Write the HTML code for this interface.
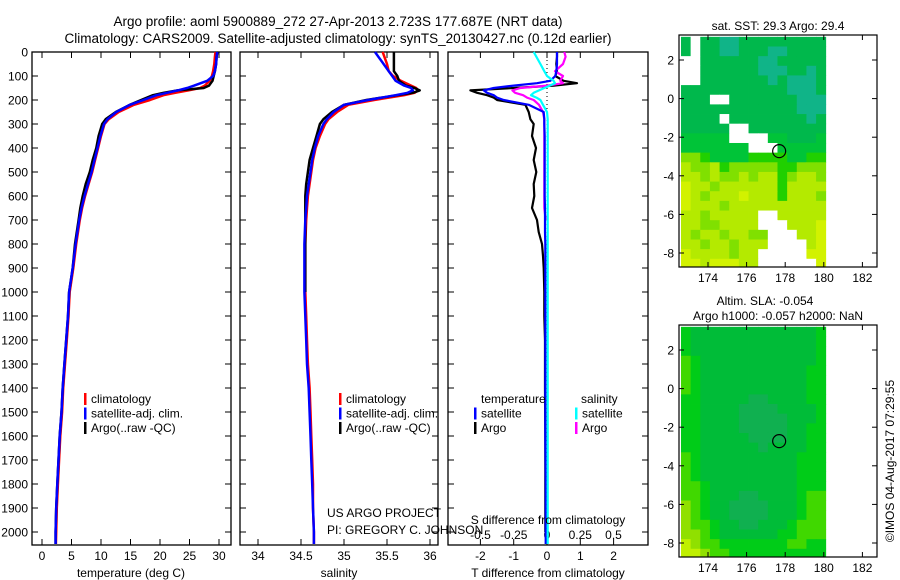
<!DOCTYPE html>
<html><head><meta charset="utf-8"><style>
html,body{margin:0;padding:0;background:#fff}
svg{display:block;font-family:"Liberation Sans",sans-serif}
</style></head><body>
<svg id="c" width="900" height="580" viewBox="0 0 900 580" xmlns="http://www.w3.org/2000/svg"></svg>
<script>
// ---------- data ----------
const depths = [0,20,50,80,100,120,140,150,160,170,180,200,220,250,280,300,350,400,450,500,550,600,650,700,800,900,1000,1100,1200,1300,1400,1500,1600,1700,1800,1900,2000,2050];
const tempClim = [29.4,29.3,29.2,29.0,28.8,28.4,27.6,26.8,24.8,22.6,20.6,18.3,15.6,13.0,11.3,10.6,10.0,9.5,9.0,8.5,7.9,7.3,6.8,6.4,5.8,5.3,4.7,4.5,4.2,3.9,3.6,3.4,3.1,2.9,2.7,2.5,2.4,2.35];
const tempSat  = [29.7,29.6,29.5,29.3,29.0,28.0,25.8,24.6,23.0,21.2,19.4,17.2,14.9,12.6,11.1,10.5,9.9,9.4,8.9,8.4,7.8,7.2,6.7,6.3,5.7,5.2,4.6,4.4,4.1,3.8,3.5,3.3,3.0,2.8,2.6,2.4,2.3,2.3];
const tempArgo = [29.7,29.6,29.5,29.3,29.1,28.9,28.3,27.4,23.0,20.6,18.8,16.8,14.9,12.5,10.8,10.2,9.6,9.2,8.6,8.1,7.4,6.9,6.5,6.2,5.6,5.2,4.6,4.4,4.1,3.8,3.5,3.3,3.0,2.8,2.6,2.4,2.3,2.3];
const salClim = [35.45,35.47,35.5,35.52,35.57,35.66,35.78,35.84,35.86,35.82,35.7,35.35,35.05,34.92,34.82,34.78,34.72,34.67,34.64,34.62,34.6,34.58,34.57,34.56,34.55,34.55,34.55,34.56,34.57,34.58,34.6,34.61,34.62,34.63,34.64,34.64,34.65,34.65];
const salSat  = [35.36,35.4,35.46,35.52,35.56,35.6,35.7,35.78,35.8,35.74,35.6,35.28,35.0,34.88,34.8,34.76,34.7,34.66,34.63,34.61,34.59,34.57,34.56,34.55,34.54,34.54,34.54,34.55,34.56,34.57,34.59,34.6,34.61,34.62,34.63,34.64,34.65,34.65];
const salArgo = [35.58,35.58,35.58,35.58,35.62,35.64,35.72,35.82,35.88,35.8,35.62,35.26,35.0,34.86,34.76,34.72,34.68,34.64,34.6,34.58,34.56,34.55,34.55,34.55,34.55,34.55,34.55];
const diffDepths = [0,20,50,80,100,120,130,140,150,160,170,180,190,200,220,250,280,300,350,400,450,500,550,600,650,700,750,800,850,900,1000,1100,1200,1400,1600,1800,2000,2050];
const dTsat  = [0.3,0.3,0.3,0.28,0.25,0.1,-0.3,-1.0,-1.6,-1.9,-1.8,-1.6,-1.5,-1.3,-0.55,-0.1,-0.08,-0.08,-0.07,-0.07,-0.07,-0.07,-0.07,-0.07,-0.06,-0.06,-0.06,-0.05,-0.05,-0.05,-0.05,-0.05,-0.05,-0.05,-0.05,-0.04,-0.04,-0.04];
const dTargo = [0.3,0.3,0.28,0.3,0.25,0.5,0.9,0.2,-1.0,-2.3,-2.1,-1.8,-1.6,-1.5,-0.65,-0.55,-0.5,-0.4,-0.45,-0.33,-0.4,-0.32,-0.4,-0.38,-0.45,-0.3,-0.25,-0.15,-0.12,-0.1,-0.08,-0.08,-0.06,-0.06,-0.05,-0.05,-0.05];
const dSsat  = [-0.1,-0.08,-0.05,-0.02,0.0,0.05,0.06,0.02,-0.02,-0.06,-0.1,-0.12,-0.08,-0.05,-0.03,0.0,0.005,0.005,0.005,0.005,0.005,0.005,0.005,0.005,0.005,0.005,0.005,0.005,0.005,0.005,0.005,0.005,0.005,0.005,0.005,0.005,0.005,0.005];
const dSargo = [0.13,0.14,0.12,0.06,0.12,0.1,0.12,0.0,-0.2,-0.26,-0.24,-0.18,-0.15,-0.1,-0.06,-0.03,-0.02,-0.02,-0.02,-0.02,-0.02,-0.02,-0.02,-0.02,-0.02,-0.01];
const depthTicks = [0,100,200,300,400,500,600,700,800,900,1000,1100,1200,1300,1400,1500,1600,1700,1800,1900,2000];
const tempTicks = [0,5,10,15,20,25,30];
const salTicks = [34,34.5,35,35.5,36];
const dTTicks = [-2,-1,0,1,2];
const dSTicks = [-0.5,-0.25,0,0.25,0.5];
const sstColors = {w:'#ffffff',a:'#10b488',b:'#00b84c',c:'#00c438',d:'#20d000',e:'#80e000',f:'#b4ea00',g:'#d2f200'};
const sstRows = ["bwbbaabbbbbbbbb","bwbbaabbbaabbbb","wwbbbbbbaabbbbb","wwbbbbbbaaabbab","wwbbbbbbbabaaab","bbbbbbbbbbbaaab","bbbwwbbbbbbbaaa","bbbbbbbbbbbbaaa","bbbbwbbbbbbbbab","bbbbbwwbbbbbbbb","cccccwwwwccbbbc","cccccccwwwccccc","eedccccddddccdd","feefdeeeeeddeee","ffefeefeffdeffe","gffeffffffdffff","gfefffgfffdfffe","gfffeffffffffff","ffefffffwwfffff","ffeeffffwwwfffg","feffeffeewwwffg","ffeffefffwwwwfg","gffffeffwwwwwgg","ggfgggffwwwwwwg"];
const slaColors = {a:'#10b050',b:'#00bc38',c:'#00cc18',d:'#40d800',e:'#90e000',f:'#c0f000'};
const slaRows = ["cbbbbbbbbbbbbbc","cbbbbbbbbbbbbbc","cbbbbbbbbbbbbbc","dcbbbbbbbbbbbbc","dcbbbbbbbbbbbcc","dcbbbbbbbbbbbcc","dcbbbbbbbbbbbcc","ccbbbbbaabbbbcc","ccbbbbaaaabbbbc","ccbbbbaaaaabbbc","ccbbbbaaaaabbcc","ccbbbbbaaaabbcc","ccbbbbbbabbbbcc","dcbbbbbbbbbbccc","dcbbbbbbbbbbccc","dcbbbbbbbbbbccc","ddcbbbbbbbbbccc","ddcbbbaabbbbcdd","edcbbaaaabbbcdd","edcbbaaaabbbcdd","eddcbbaabbbcddd","eedcbbbbbbccddd","feddcccccccddcc","ffeddcccccccccc"];
const lonTicks = [174,176,178,180,182];
const latTicks = [2,0,-2,-4,-6,-8];
const argoLon = [177.687];
const argoLat = [-2.723];

// ---------- helpers ----------
const S = document.getElementById('c');
const NS = 'http://www.w3.org/2000/svg';
function mk(tag, attrs, parent){const e=document.createElementNS(NS,tag);for(const k in attrs)e.setAttribute(k,attrs[k]);(parent||S).appendChild(e);return e;}
function txt(x,y,s,anchor,size,parent){const e=mk('text',{x:x,y:y,'text-anchor':anchor||'start','font-size':size||12,fill:'#000'},parent);e.textContent=s;return e;}
const yD = d => 52 + d*0.24;
const P1={x0:32,x1:231}, P2={x0:240,x1:438}, P3={x0:448,x1:648};
const xT = t => 42 + 5.9*t;
const xS = s => 258 + 86*(s-34);
const xDT = v => 547 + 33.3*v;
const xDS = v => 547 + 133*v;

function frame(P,name){
  const g=mk('g',{});
  
  
  mk('rect',{x:P.x0,y:52,width:P.x1-P.x0,height:493,fill:'none',stroke:'#000','stroke-width':1.3},g);
  depthTicks.forEach(d=>{mk('line',{x1:P.x0,x2:P.x0+6,y1:yD(d),y2:yD(d),stroke:'#000'},g);mk('line',{x1:P.x1-6,x2:P.x1,y1:yD(d),y2:yD(d),stroke:'#000'},g);});
  return g;
}
function xticks(g,vals,fx,labelY){
  vals.forEach(v=>{const x=fx(v);mk('line',{x1:x,x2:x,y1:52,y2:58,stroke:'#000'},g);mk('line',{x1:x,x2:x,y1:539,y2:545,stroke:'#000'},g);
    if(labelY){const t=txt(x,labelY,String(v),'middle',12,g);}});
}
function line(g,xs,ys,color,name,w){
  const pts=xs.map((v,i)=>ys[i]!==undefined?`${v.toFixed(1)},${ys[i].toFixed(1)}`:'').filter(Boolean).join(' ');
  const p=mk('polyline',{points:pts,fill:'none',stroke:color,'stroke-width':w||2.5,'stroke-linejoin':'round'},g);
  
  
}

// titles
let t=txt(338,26,'Argo profile: aoml 5900889_272 27-Apr-2013 2.723S 177.687E (NRT data)','middle',13.5);

t=txt(338,43,'Climatology: CARS2009. Satellite-adjusted climatology: synTS_20130427.nc (0.12d earlier)','middle',13.5);


// depth labels
depthTicks.forEach(d=>{const e=txt(28,yD(d)+4.5,String(d),'end',12);});

// panel 1
const g1=frame(P1,'temperature-panel');
xticks(g1,tempTicks,xT,560);
line(g1,tempClim.map(xT),depths.map(yD),'#ff0000','temp-climatology-line');
line(g1,tempArgo.map(xT),depths.map(yD),'#000000','temp-argo-line');
line(g1,tempSat.map(xT),depths.map(yD),'#0000ff','temp-satellite-line');
t=txt(131,577,'temperature (deg C)','middle',12,g1);

// panel 2
const g2=frame(P2,'salinity-panel');
xticks(g2,salTicks,xS,560);
line(g2,salClim.map(xS),depths.map(yD),'#ff0000','sal-climatology-line');
line(g2,salArgo.map(xS),depths.slice(0,salArgo.length).map(yD),'#000000','sal-argo-line');
line(g2,salSat.map(xS),depths.map(yD),'#0000ff','sal-satellite-line');
t=txt(339,577,'salinity','middle',12,g2);

// panel 3
const g3=frame(P3,'difference-panel');
xticks(g3,dTTicks,xDT,560);
dSTicks.forEach(v=>{const e=txt(xDS(v),539,String(v),'middle',12,g3);});
mk('line',{x1:547,x2:547,y1:52,y2:545,stroke:'#000','stroke-dasharray':'1,3'},g3);
line(g3,dTargo.map(xDT),diffDepths.slice(0,dTargo.length).map(yD),'#000000','dT-argo-line',2.2);
line(g3,dSargo.map(xDS),diffDepths.slice(0,dSargo.length).map(yD),'#ff00ff','dS-argo-line',2.2);
line(g3,dTsat.map(xDT),diffDepths.map(yD),'#0000ff','dT-satellite-line',2.2);
line(g3,dSsat.map(xDS),diffDepths.map(yD),'#00ffff','dS-satellite-line',2.2);
t=txt(548,524,'S difference from climatology','middle',12,g3);
t=txt(548,577,'T difference from climatology','middle',12,g3);

// legends
function legend(x,y,items,name){
  const g=mk('g',{});
  items.forEach((it,i)=>{const yy=y+i*14.5;
    if(it[1]){mk('rect',{x:x,y:yy-10,width:2.5,height:12,fill:it[1]},g);}
    const e=txt(x+(it[1]?7:0),yy,it[0],'start',12,g);});
}
legend(84,403,[['climatology','#ff0000'],['satellite-adj. clim.','#0000ff'],['Argo(..raw -QC)','#000000']],'temperature-legend');
legend(339,403,[['climatology','#ff0000'],['satellite-adj. clim.','#0000ff'],['Argo(..raw -QC)','#000000']],'salinity-legend');
legend(481,403,[['temperature',null]],'diff-legend-temp-header');
legend(474,417.5,[['satellite','#0000ff'],['Argo','#000000']],'diff-legend-temp');
legend(581,403,[['salinity',null]],'diff-legend-sal-header');
legend(575,417.5,[['satellite','#00ffff'],['Argo','#ff00ff']],'diff-legend-sal');
t=txt(327,517,'US ARGO PROJECT','start',12);
t=txt(327,534,'PI: GREGORY C. JOHNSON','start',12);

// maps
const mLon = lon => 708 + (lon-174)*19.3;
function drawMap(top,rows,colors,name,titles){
  const g=mk('g',{});
  const mLat = lat => top + 25 + (2-lat)*19.3;
  rows.forEach((r,i)=>{const la=3.2-0.5*i;[...r].forEach((ch,j)=>{const lo=172.6+0.5*j;
    const x0=Math.max(mLon(lo),679), x1=mLon(lo+0.5), y0=Math.max(mLat(la),top), y1=Math.min(mLat(la-0.5),top+232);
    const c=mk('rect',{x:x0,y:y0,width:x1-x0+0.4,height:y1-y0+0.4,fill:colors[ch]},g);
    
    });});
  mk('rect',{x:679,y:top,width:198,height:232,fill:'none',stroke:'#000','stroke-width':1.2},g);
  lonTicks.forEach(lo=>{const x=mLon(lo);mk('line',{x1:x,x2:x,y1:top,y2:top+5,stroke:'#000'},g);mk('line',{x1:x,x2:x,y1:top+227,y2:top+232,stroke:'#000'},g);
    const e=txt(x,top+247,String(lo),'middle',12,g);});
  latTicks.forEach(la=>{const y=mLat(la);mk('line',{x1:679,x2:684,y1:y,y2:y,stroke:'#000'},g);mk('line',{x1:872,x2:877,y1:y,y2:y,stroke:'#000'},g);
    const e=txt(674,y+4.5,String(la),'end',12,g);});
  argoLon.forEach((lo,i)=>{const c=mk('circle',{cx:mLon(lo),cy:mLat(argoLat[i]),r:6.5,fill:'none',stroke:'#000','stroke-width':1.2},g);
    });
  titles.forEach((s,i)=>{const e=txt(titles.length>1&&i==0?765:778,top-(titles.length-i)*15+10,s,'middle',12,g);});
}
drawMap(35,sstRows,sstColors,'sst-map',['sat. SST: 29.3 Argo: 29.4']);
drawMap(325,slaRows,slaColors,'sla-map',['Altim. SLA: -0.054','Argo h1000: -0.057 h2000: NaN']);

t=txt(0,0,'©IMOS 04-Aug-2017 07:29:55','middle',12);
t.setAttribute('transform','translate(894,461) rotate(-90)');

</script>
</body></html>
